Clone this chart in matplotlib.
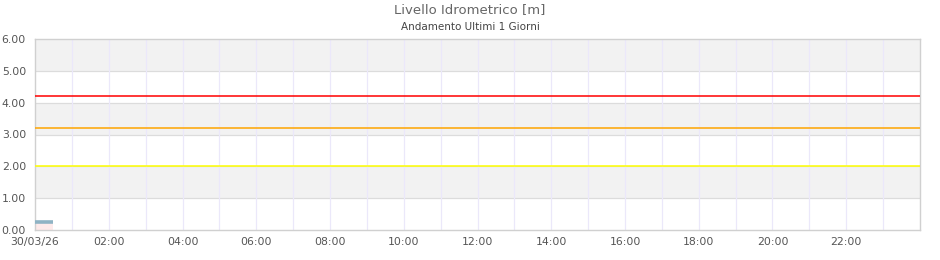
import matplotlib
matplotlib.use("Agg")
import matplotlib.pyplot as plt
import pandas as pd

# data
times = pd.to_datetime(["2026-03-30 00:00", "2026-03-30 00:10",
                        "2026-03-30 00:20", "2026-03-30 00:30"])
levels = [0.24, 0.24, 0.24, 0.24]
thresholds = [2.0, 3.2, 4.2]
threshold_colors = ["#ffff00", "#ffa500", "#ff0000"]
x_start = pd.Timestamp("2026-03-30 00:00")
x_end = pd.Timestamp("2026-03-31 00:00")
y_ticks = [0, 1, 2, 3, 4, 5, 6]

fig = plt.figure(figsize=(9.4, 2.6), dpi=100)
ax = fig.add_axes([35 / 940, 30 / 260, 885 / 940, 191 / 260])

# alternating horizontal bands
for i in range(len(y_ticks) - 1):
    if i % 2 == 1:
        ax.axhspan(y_ticks[i], y_ticks[i + 1], color="#f2f2f2", zorder=0, lw=0)
for y in y_ticks[1:-1]:
    ax.axhline(y, color="#dcdcdc", lw=0.9, zorder=1)

# hourly vertical grid
for h in range(1, 24):
    ax.axvline(x_start + pd.Timedelta(hours=h), color="#ebe8fa", lw=0.9, zorder=1)

for val, col in zip(thresholds, threshold_colors):
    ax.axhline(val, color=col, lw=1.1, zorder=3)

ax.fill_between(times, 0, levels, color="#fdeaea", lw=0, zorder=2)
ax.plot(times, levels, color="#8fb3c4", lw=2.6, zorder=4, solid_capstyle="butt")

ax.set_xlim(x_start, x_end)
ax.set_ylim(0, 6)
ax.set_yticks(y_ticks)
ax.set_yticklabels([f"{v:.2f}" for v in y_ticks])

xt = [x_start + pd.Timedelta(hours=h) for h in range(0, 24, 2)]
ax.set_xticks(xt)
ax.set_xticklabels(["30/03/26"] + [t.strftime("%H:%M") for t in xt[1:]])

ax.tick_params(axis="both", length=0, labelsize=7.8, colors="#555555")
ax.tick_params(axis="x", pad=5)
ax.tick_params(axis="y", pad=6.5)
for s in ax.spines.values():
    s.set_color("#d0d0d0")
    s.set_linewidth(1.0)

fig.text(0.5, 1 - 10 / 260, "Livello Idrometrico [m]", ha="center", va="center",
         fontsize=9.5, color="#666666")
fig.text(0.5, 1 - 27 / 260, "Andamento Ultimi 1 Giorni", ha="center", va="center",
         fontsize=7.5, color="#444444")

fig.savefig("out.png", dpi=100)
